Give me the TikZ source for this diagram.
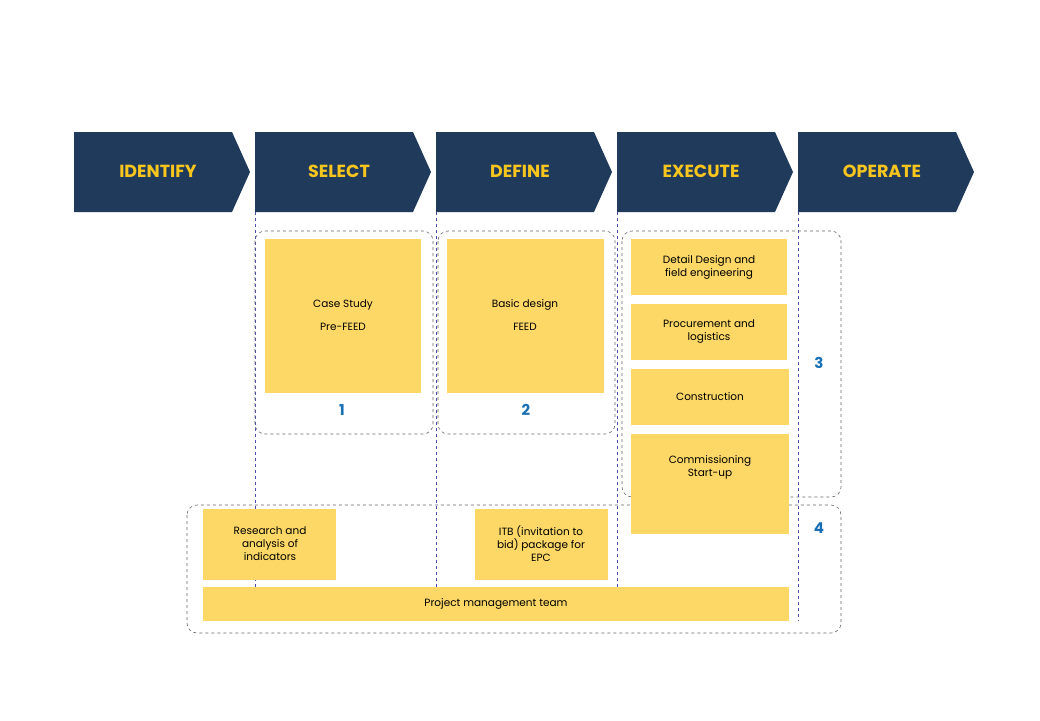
\documentclass[tikz,border=0pt]{standalone}
\usepackage{fontspec}
\setmainfont{Poppins}
\begin{document}
\begin{tikzpicture}[x=1pt,y=-1pt,
 chev/.style={fill=navy,draw=none},
 ybox/.style={fill=yel,draw=none,align=center,font=\fontsize{10.5}{13}\selectfont,inner sep=0},
 dbox/.style={draw=gray!80!black,dashed,rounded corners=10pt,line width=0.6pt},
 vl/.style={draw=blue!40!gray,dashed,line width=0.5pt},
 num/.style={text=numblue,font=\fontsize{15}{15}\selectfont\bfseries},
 head/.style={text=ylw,font=\fontsize{17.5}{18}\selectfont\bfseries}]
\definecolor{navy}{HTML}{1F3A5A}\definecolor{yel}{HTML}{FDD867}
\definecolor{ylw}{HTML}{F7C51E}\definecolor{numblue}{HTML}{1A6FB5}
\useasboundingbox (0,0) rectangle (1040,720);
% vertical dashed lines
\foreach \x/\e in {255/590,436/587,617/587,798/621}{\coordinate (t\x) at (\x,212);\coordinate (b\x) at (\x,\e);\draw[vl] (t\x)--(b\x);}
% chevrons
\foreach \x/\t [count=\i] in {74/IDENTIFY,255/SELECT,436/DEFINE,617/EXECUTE,798/OPERATE}{
 \fill[chev] (\x,132)--(\x+158,132)--(\x+176,172)--(\x+158,212)--(\x,212)--cycle;
 \node[head] (h\i) at (\x+84,171) {\t};}
% dashed groups
\draw[dbox] (255,231) rectangle (433,434);
\draw[dbox] (438,231) rectangle (615,434);
\draw[dbox] (622,231) rectangle (841,497);
\draw[dbox] (187,505) rectangle (841,633);
% yellow boxes
\path[fill=yel] (265,239) rectangle (421,393);
\node[ybox] (cs) at (343,315) {Case Study\\[10pt]Pre-FEED};
\path[fill=yel] (447,239) rectangle (604,393);
\node[ybox] (bd) at (525,315) {Basic design\\[10pt]FEED};
\path[fill=yel] (631,239) rectangle (787,295);
\node[ybox] (dd) at (709,267) {Detail Design and\\field engineering};
\path[fill=yel] (631,304) rectangle (787,360);
\node[ybox] (pl) at (709,332) {Procurement and\\logistics};
\path[fill=yel] (631,369) rectangle (789,425);
\node[ybox] (co) at (710,397) {Construction};
\path[fill=yel] (631,434) rectangle (789,534);
\node[ybox] (cm) at (710,467) {Commissioning\\Start-up};
\path[fill=yel] (203,509) rectangle (336,580);
\node[ybox] (ra) at (270,544) {Research and\\analysis of\\indicators};
\path[fill=yel] (475,509) rectangle (608,580);
\node[ybox] (itb) at (541,544) {ITB (invitation to\\bid) package for\\EPC};
\path[fill=yel] (203,587) rectangle (789,621);
\node[ybox] (pm) at (496,604) {Project management team};
% numbers
\node[num] (n1) at (342,410) {1};
\node[num] (n2) at (526,410) {2};
\node[num] (n3) at (819,363) {3};
\node[num] (n4) at (819,528) {4};
\end{tikzpicture}
\end{document}
